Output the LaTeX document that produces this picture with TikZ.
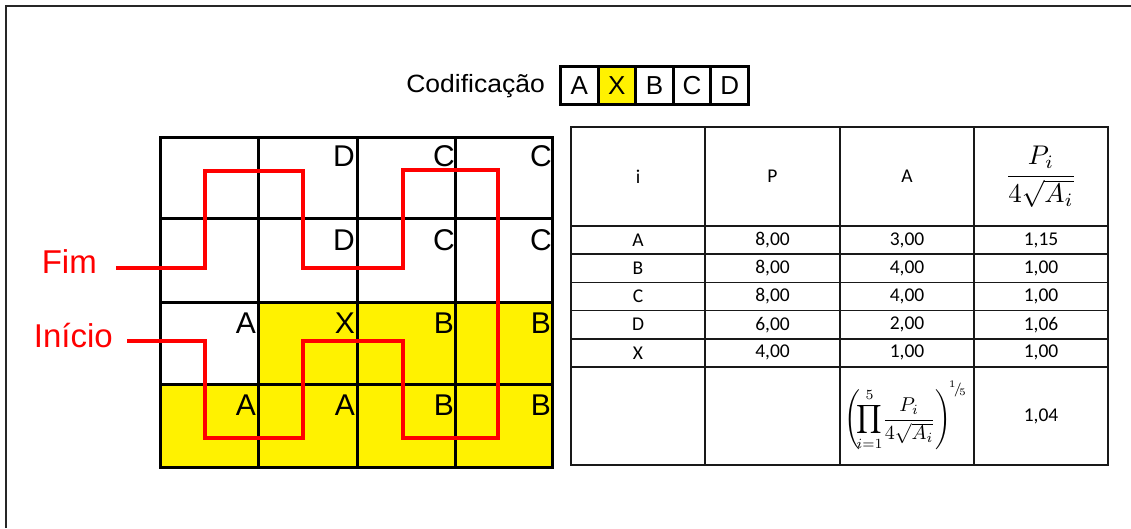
\documentclass[tikz,border=0pt]{standalone}
\usepackage{amsmath}
\usepackage{fontspec}
\setmainfont{Liberation Sans}
\newfontfamily\tablefont{Carlito}
\begin{document}
\begin{tikzpicture}[x=1pt,y=-1pt,
  frameline/.style={draw=black!85, line width=2pt},
  gridline/.style={draw=black, line width=3pt},
  cellmark/.style={anchor=base east, inner sep=0pt, font=\fontsize{30}{30}\selectfont},
  route/.style={draw=red, line width=4.5pt, line join=miter},
  routelabel/.style={anchor=base east, inner sep=0pt, text=red, font=\fontsize{33}{33}\selectfont},
  codebox/.style={draw=black, line width=3pt, minimum width=37.6pt, minimum height=38pt,
                  inner sep=0pt, anchor=north west, font=\fontsize{26}{26}\selectfont},
  tabline/.style={draw=black!90, line width=1.5pt},
  tabtext/.style={inner sep=0pt, font=\tablefont\fontsize{19.5}{19.5}\selectfont},
]
\useasboundingbox (0,0) rectangle (1131,528);

% outer frame (open at right and bottom)
\draw[frameline] (6,528) -- (6,6) -- (1131,6);

% coding sequence
\node[anchor=base east, inner sep=0pt, font=\fontsize{25}{25}\selectfont,
      xscale=1.06] (codlabel) at (545,92) {Codificação};
\node[codebox] (codeA) at (559,65) {A};
\node[codebox, fill=yellow] (codeX) at (596.6,65) {X};
\node[codebox] (codeB) at (634.2,65) {B};
\node[codebox] (codeC) at (671.8,65) {C};
\node[codebox] (codeD) at (709.4,65) {D};

% grid of cells
\fill[yellow] (258,302) rectangle (552,384);
\fill[yellow] (160,384) rectangle (552,467);
\foreach \gx in {258,357,455} \draw[gridline] (\gx,137) -- (\gx,467);
\foreach \gy in {218,302,384} \draw[gridline] (160,\gy) -- (552,\gy);
\draw[gridline] (160,137) rectangle (552,467);

% cell letters
\node[cellmark] (r1c2) at (355,166) {D};
\node[cellmark] (r1c3) at (455,166) {C};
\node[cellmark] (r1c4) at (552,166) {C};
\node[cellmark] (r2c2) at (355,250) {D};
\node[cellmark] (r2c3) at (455,250) {C};
\node[cellmark] (r2c4) at (552,250) {C};
\node[cellmark] (r3c1) at (256,333) {A};
\node[cellmark] (r3c2) at (355,333) {X};
\node[cellmark] (r3c3) at (454,333) {B};
\node[cellmark] (r3c4) at (551,333) {B};
\node[cellmark] (r4c1) at (256,415) {A};
\node[cellmark] (r4c2) at (355,415) {A};
\node[cellmark] (r4c3) at (454,415) {B};
\node[cellmark] (r4c4) at (551,415) {B};

% route through the cells
\node[routelabel] (fim) at (97,273) {Fim};
\node[routelabel] (inicio) at (113,347) {Início};
\coordinate (fimend) at (116,268);
\coordinate (inicioend) at (127,341);
\draw[route] (fimend) -- (205,268) -- (205,171) -- (303,171) -- (303,268)
  -- (403,268) -- (403,170) -- (498,170) -- (498,438) -- (403,438)
  -- (403,341) -- (303,341) -- (303,438) -- (205,438) -- (205,341) -- (inicioend);

% table
\draw[tabline] (571,127) rectangle (1108,465);
\foreach \tx in {705,840,974} \draw[tabline] (\tx,127) -- (\tx,465);
\foreach \ty in {226,254.2,282.4,310.6,338.8,367} \draw[tabline] (571,\ty) -- (1108,\ty);

\node[tabtext] (hi) at (638,176.5) {i};
\node[tabtext] (hp) at (772.5,176.5) {P};
\node[tabtext] (ha) at (907,176.5) {A};
\node[inner sep=0pt, scale=2.7] (hr) at (1041,177) {$\displaystyle\frac{P_i}{4\sqrt{A_i}}$};

\node[tabtext] (iA) at (638,240.1) {A};
\node[tabtext] (pA) at (772.5,240.1) {8,00};
\node[tabtext] (aA) at (907,240.1) {3,00};
\node[tabtext] (rA) at (1041,240.1) {1,15};
\node[tabtext] (iB) at (638,268.3) {B};
\node[tabtext] (pB) at (772.5,268.3) {8,00};
\node[tabtext] (aB) at (907,268.3) {4,00};
\node[tabtext] (rB) at (1041,268.3) {1,00};
\node[tabtext] (iC) at (638,296.5) {C};
\node[tabtext] (pC) at (772.5,296.5) {8,00};
\node[tabtext] (aC) at (907,296.5) {4,00};
\node[tabtext] (rC) at (1041,296.5) {1,00};
\node[tabtext] (iD) at (638,324.7) {D};
\node[tabtext] (pD) at (772.5,324.7) {6,00};
\node[tabtext] (aD) at (907,324.7) {2,00};
\node[tabtext] (rD) at (1041,324.7) {1,06};
\node[tabtext] (iX) at (638,352.9) {X};
\node[tabtext] (pX) at (772.5,352.9) {4,00};
\node[tabtext] (aX) at (907,352.9) {1,00};
\node[tabtext] (rX) at (1041,352.9) {1,00};

\node[inner sep=0pt, scale=2.0] (geo) at (906,416)
  {$\displaystyle\left(\!\prod_{i=1}^{5}\!\frac{P_i}{4\sqrt{A_i}}\right)^{\!{}^{1}\!/\!{}_{5}}$};
\node[tabtext] (geoval) at (1041,416) {1,04};
\end{tikzpicture}
\end{document}
